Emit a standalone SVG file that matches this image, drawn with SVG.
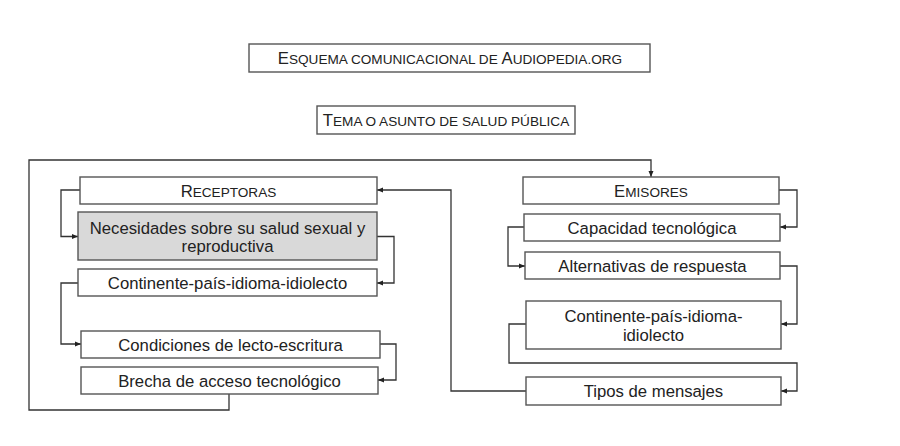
<svg xmlns="http://www.w3.org/2000/svg" width="900" height="446" viewBox="0 0 900 446">
<defs>
<style>
.box{fill:#fff;stroke:#555;stroke-width:1.4}
.gray{fill:#d9d9d9}
.t{font-family:"Liberation Sans",Arial,sans-serif;font-size:16.7px;fill:#222;text-anchor:middle}
.sc{font-size:13.6px}
.con{fill:none;stroke:#333;stroke-width:1.3}
</style>
<marker id="arr" markerUnits="userSpaceOnUse" markerWidth="6" markerHeight="6" refX="6" refY="3" orient="auto">
<path d="M0,0.5 L6,3 L0,5.5 z" fill="#222"/>
</marker>
</defs>
<rect width="900" height="446" fill="#fff"/>
<g id="connectors">
<path class="con" d="M80,190 H61 V236.5 H78" marker-end="url(#arr)"/>
<path class="con" d="M377,236.5 H394 V283 H377" marker-end="url(#arr)"/>
<path class="con" d="M78,283 H61 V344 H81" marker-end="url(#arr)"/>
<path class="con" d="M380,344 H396 V380 H378" marker-end="url(#arr)"/>
<path class="con" d="M229,394 V410 H29 V160 H651 V177" marker-end="url(#arr)"/>
<path class="con" d="M779,190 H797 V227 H780" marker-end="url(#arr)"/>
<path class="con" d="M524,227 H508 V266 H525" marker-end="url(#arr)"/>
<path class="con" d="M780,266 H797 V324 H781" marker-end="url(#arr)"/>
<path class="con" d="M526,324 H509 V363 H797 V391 H781" marker-end="url(#arr)"/>
<path class="con" d="M526,391 H451 V190 H377" marker-end="url(#arr)"/>
</g>
<g id="title">
<rect class="box" x="249" y="44" width="401" height="28"/>
<text class="t" x="450" y="64">E<tspan class="sc">SQUEMA COMUNICACIONAL DE </tspan>A<tspan class="sc">UDIOPEDIA.ORG</tspan></text>
</g>
<g id="tema">
<rect class="box" x="317" y="106" width="258" height="28"/>
<text class="t" x="446" y="126">T<tspan class="sc">EMA O ASUNTO DE SALUD PÚBLICA</tspan></text>
</g>
<g id="receptoras">
<rect class="box" x="80" y="177" width="297" height="27"/>
<text class="t" x="228.5" y="196.5">R<tspan class="sc">ECEPTORAS</tspan></text>
</g>
<g id="necesidades">
<rect class="box gray" x="78" y="212" width="299" height="48"/>
<text class="t" x="227.5" y="233.5">Necesidades sobre su salud sexual y</text>
<text class="t" x="227.5" y="252">reproductiva</text>
</g>
<g id="continente-receptoras">
<rect class="box" x="78" y="269" width="299" height="27"/>
<text class="t" x="227.5" y="288.5">Continente-país-idioma-idiolecto</text>
</g>
<g id="condiciones">
<rect class="box" x="81" y="331" width="299" height="27"/>
<text class="t" x="230.5" y="350.5">Condiciones de lecto-escritura</text>
</g>
<g id="brecha">
<rect class="box" x="81" y="367" width="297" height="27"/>
<text class="t" x="229.5" y="386.5">Brecha de acceso tecnológico</text>
</g>
<g id="emisores">
<rect class="box" x="523" y="177" width="256" height="27"/>
<text class="t" x="651" y="196.5">E<tspan class="sc">MISORES</tspan></text>
</g>
<g id="capacidad">
<rect class="box" x="524" y="214" width="256" height="27"/>
<text class="t" x="652" y="233.5">Capacidad tecnológica</text>
</g>
<g id="alternativas">
<rect class="box" x="525" y="252" width="255" height="27"/>
<text class="t" x="652.5" y="271.5">Alternativas de respuesta</text>
</g>
<g id="continente-emisores">
<rect class="box" x="526" y="301" width="255" height="48"/>
<text class="t" x="653.5" y="322">Continente-país-idioma-</text>
<text class="t" x="653.5" y="341">idiolecto</text>
</g>
<g id="tipos">
<rect class="box" x="526" y="377" width="255" height="28"/>
<text class="t" x="653.5" y="397">Tipos de mensajes</text>
</g>
</svg>
